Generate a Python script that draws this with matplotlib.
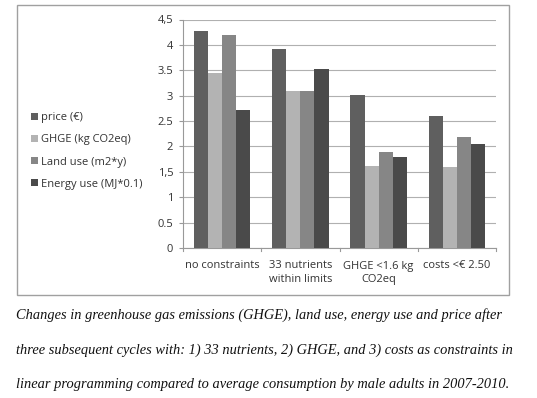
import numpy as np
import matplotlib
matplotlib.use("Agg")
import matplotlib.pyplot as plt
import matplotlib.patches as patches

categories = ["no constraints", "33 nutrients\nwithin limits", "GHGE <1.6 kg\nCO2eq", "costs <€ 2.50"]
series_names = ["price (€)", "GHGE (kg CO2eq)", "Land use (m2*y)", "Energy use (MJ*0.1)"]
price = [4.27, 3.91, 3.02, 2.59]
ghge = [3.45, 3.10, 1.62, 1.59]
land_use = [4.19, 3.09, 1.89, 2.19]
energy_use = [2.71, 3.53, 1.80, 2.04]
colors = ["#5f5f5f", "#b3b3b3", "#868686", "#4a4a4a"]
yticks = [0, 0.5, 1, 1.5, 2, 2.5, 3, 3.5, 4, 4.5]
ytick_labels = ["0", "0.5", "1", "1,5", "2", "2.5", "3", "3.5", "4", "4,5"]

caption_lines = [
    "Changes in greenhouse gas emissions (GHGE), land use, energy use and price after",
    "three subsequent cycles with: 1) 33 nutrients, 2) GHGE, and 3) costs as constraints in",
    "linear programming compared to average consumption by male adults in 2007-2010.",
]

W, H = 537, 398
fig = plt.figure(figsize=(W / 100, H / 100), dpi=100, facecolor="white")

# chart frame
frame = patches.Rectangle((17 / W, 1 - 295 / H), (509 - 17) / W, (295 - 5) / H,
                          transform=fig.transFigure, facecolor="white",
                          edgecolor="#a0a0a0", linewidth=1.0, zorder=-1)
fig.patches.append(frame)

ax = fig.add_axes([183 / W, 1 - 248 / H, (496 - 183) / W, (248 - 19.5) / H])
ax.set_facecolor("white")

data = [price, ghge, land_use, energy_use]
x = np.arange(len(categories))
bw = 0.18
for i, (vals, name, c) in enumerate(zip(data, series_names, colors)):
    ax.bar(x + (i - 1.5) * bw, vals, bw, color=c, label=name, zorder=3)

ax.set_xlim(-0.5, len(categories) - 0.5)
ax.set_ylim(0, 4.5)
ax.set_yticks(yticks)
ax.set_yticklabels(ytick_labels, fontsize=8, color="#333333", family="Open Sans")
ax.yaxis.grid(True, color="#b0b0b0", linewidth=0.8, zorder=0)
ax.tick_params(axis="y", length=3, color="#999999", pad=4)

ax.set_xticks(x)
ax.set_xticklabels(categories, fontsize=8, color="#333333", family="Open Sans",
                   linespacing=1.3)
ax.tick_params(axis="x", length=0, pad=9)
# category boundary ticks
for b in np.arange(-0.5, len(categories), 1.0):
    ax.plot([b, b], [0, -0.06], color="#999999", linewidth=0.8, clip_on=False)

for s in ["top", "right"]:
    ax.spines[s].set_visible(False)
ax.spines["left"].set_color("#999999")
ax.spines["bottom"].set_color("#999999")

handles, labels = ax.get_legend_handles_labels()
fig.legend(handles, labels, loc="center left", bbox_to_anchor=(21 / W, 1 - 151 / H),
           frameon=False, prop={"family": "Open Sans", "size": 8},
           handlelength=0.6, handleheight=0.6, handletextpad=0.3, labelspacing=1.0,
           labelcolor="#333333")

for k, line in enumerate(caption_lines):
    fig.text(16 / W, 1 - (319 + 34.5 * k) / H, line, fontsize=10.4,
             family="Liberation Serif", style="italic", va="baseline", ha="left",
             color="#111111")

fig.savefig("out.png", dpi=100, facecolor="white")
